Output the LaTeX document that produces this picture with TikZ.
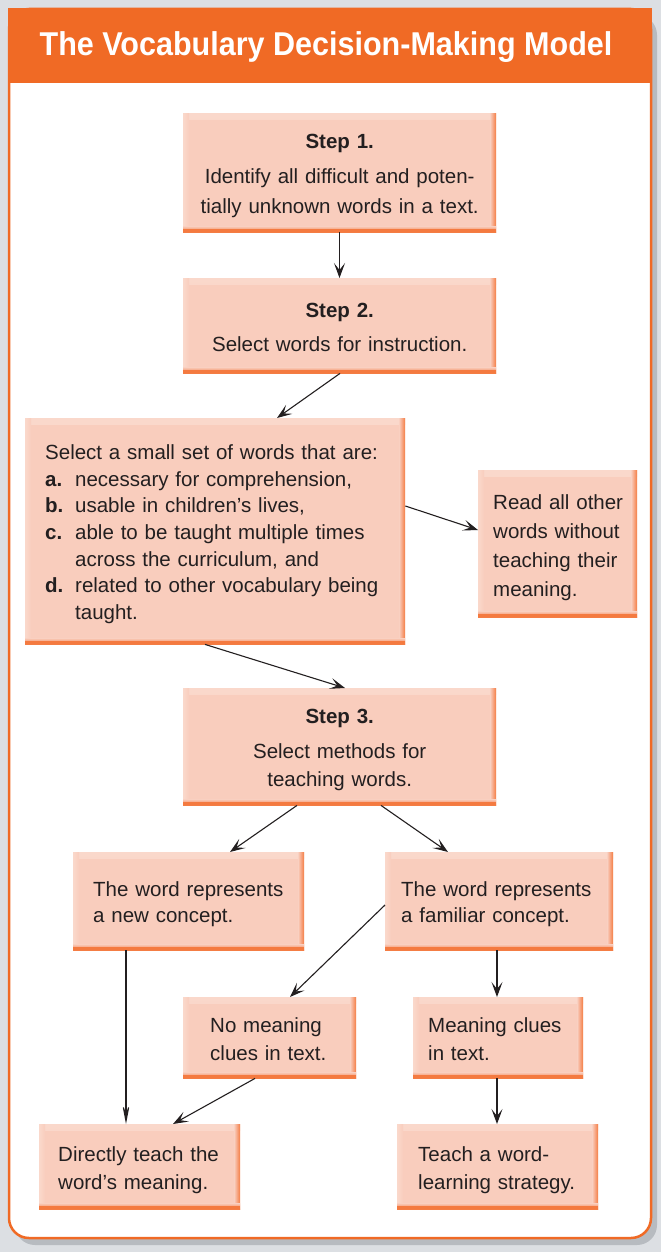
\documentclass[tikz,border=0pt]{standalone}
\usepackage{fontspec}
\setmainfont{Liberation Sans}
\usetikzlibrary{arrows.meta}
\definecolor{bgc}{HTML}{DCDFE3}
\definecolor{shadowc}{HTML}{B7BBC0}
\definecolor{orng}{HTML}{F06A25}
\definecolor{boxfill}{HTML}{F9CDBD}
\definecolor{boxlight}{HTML}{FAD8CB}
\definecolor{boxedge}{HTML}{F47A40}
\definecolor{txt}{HTML}{231F20}
\newcommand\bodyfont{\fontsize{20.5}{28}\selectfont}
\newcommand\lines[2]{\hspace*{#1pt}\raisebox{-3pt}[\height][\depth]{\begin{tabular}[c]{@{}l@{}}#2\end{tabular}}}
\newcommand\clines[1]{\raisebox{-3pt}[\height][\depth]{\begin{tabular}[c]{@{}c@{}}#1\end{tabular}}}
\tikzset{
  bx/.style 2 args={rectangle, anchor=north west, inner sep=0pt,
    minimum width=#1pt, text width=#1pt, minimum height=#2pt,
    fill=boxfill, text=txt, font=\bodyfont, align=left,
    path picture={
      \shade[top color=boxlight, bottom color=boxfill]
        (path picture bounding box.north west) rectangle ([yshift=-6pt]path picture bounding box.north east);
      \shade[left color=boxlight, right color=boxfill]
        (path picture bounding box.north west) rectangle ([xshift=6pt]path picture bounding box.south west);
      \shade[left color=boxfill, right color=boxedge]
        ([xshift=-6pt]path picture bounding box.north east) rectangle (path picture bounding box.south east);
      \shade[top color=boxfill, bottom color=boxedge]
        ([yshift=6pt]path picture bounding box.south west) rectangle (path picture bounding box.south east);
      \fill[boxedge] ([yshift=3pt]path picture bounding box.south west) rectangle (path picture bounding box.south east);
    }},
  stepbox/.style={align=center},
  arr/.style={draw=txt, line width=1.1pt, -{Stealth[length=15pt,width=11pt,inset=7pt]}},
  longarr/.style={draw=txt, line width=1.1pt, -{Stealth[length=26pt,width=10pt,inset=16pt]}},
}
\begin{document}
\begin{tikzpicture}[x=1pt,y=-1pt]
\useasboundingbox (0,0) rectangle (661,1252);
\fill[bgc] (0,0) rectangle (661,1252);
% frame
\fill[shadowc, rounded corners=20pt] (15,15) rectangle (657,1245);
\filldraw[fill=white, draw=orng, line width=2.5pt, rounded corners=20pt] (9,9) rectangle (651,1238);
\fill[orng] (7.75,7.75) rectangle (652.25,83);
\node[text=white, font=\fontsize{33}{36}\selectfont\bfseries] (title) at (326,47)
  {\scalebox{0.925}[1]{The Vocabulary Decision-Making Model}};

% boxes
\node[bx={313}{119}, stepbox] (s1) at (183,113)
  {\clines{\textbf{Step 1.}\\[7pt] Identify all difficult and poten-\\[2pt] tially unknown words in a text.}};
\node[bx={313}{95}, stepbox] (s2) at (183,278)
  {\clines{\textbf{Step 2.}\\[6pt] Select words for instruction.}};
\node[bx={380}{226}, font=\fontsize{20.5}{26.7}\selectfont] (big) at (25,418)
  {\lines{20}{Select a small set of words that are:\\
   \makebox[30pt][l]{\bfseries a.}necessary for comprehension,\\
   \makebox[30pt][l]{\bfseries b.}usable in children’s lives,\\
   \makebox[30pt][l]{\bfseries c.}able to be taught multiple times\\
   \hspace*{30pt}across the curriculum, and\\
   \makebox[30pt][l]{\bfseries d.}related to other vocabulary being\\
   \hspace*{30pt}taught.}};
\node[bx={159}{147}, font=\fontsize{20.5}{29}\selectfont] (read) at (478,470)
  {\lines{15}{Read all other\\ words without\\ teaching their\\ meaning.}};
\node[bx={313}{117}, stepbox] (s3) at (183,688)
  {\clines{\textbf{Step 3.}\\[7pt] Select methods for\\ teaching words.}};
\node[bx={231}{98}, font=\fontsize{20.5}{26.5}\selectfont] (newc) at (73,852)
  {\lines{20}{The word represents\\ a new concept.}};
\node[bx={228}{98}, font=\fontsize{20.5}{26.5}\selectfont] (fam) at (385,852)
  {\lines{16}{The word represents\\ a familiar concept.}};
\node[bx={173}{81}] (nom) at (183,997)
  {\lines{27}{No meaning\\ clues in text.}};
\node[bx={170}{81}] (mc) at (413,997)
  {\lines{15}{Meaning clues\\ in text.}};
\node[bx={201}{85}] (dir) at (39,1124)
  {\lines{19}{Directly teach the\\ word’s meaning.}};
\node[bx={201}{85}] (teach) at (397,1124)
  {\lines{21}{Teach a word-\\ learning strategy.}};

% connectors
\draw[arr] ([xshift=156.5pt]s1.south west) -- ([xshift=156.5pt]s2.north west);
\draw[arr] ([xshift=157pt]s2.south west) -- ([xshift=252pt]big.north west);
\draw[arr] ([yshift=-88pt]big.north east) -- ([yshift=-60pt]read.north west);
\draw[arr] ([xshift=180pt]big.south west) -- ([xshift=162pt]s3.north west);
\draw[arr] ([xshift=114pt]s3.south west) -- ([xshift=157pt]newc.north west);
\draw[arr] ([xshift=198pt]s3.south west) -- ([xshift=63pt]fam.north west);
\draw[arr] ([yshift=-53pt]fam.north west) -- ([xshift=107pt]nom.north west);
\draw[longarr] ([xshift=53pt]newc.south west) -- ([xshift=87pt]dir.north west);
\draw[arr] ([xshift=112pt]fam.south west) -- ([xshift=84pt]mc.north west);
\draw[arr] ([xshift=72pt]nom.south west) -- ([xshift=134pt]dir.north west);
\draw[arr] ([xshift=84pt]mc.south west) -- ([xshift=100pt]teach.north west);
\end{tikzpicture}
\end{document}
